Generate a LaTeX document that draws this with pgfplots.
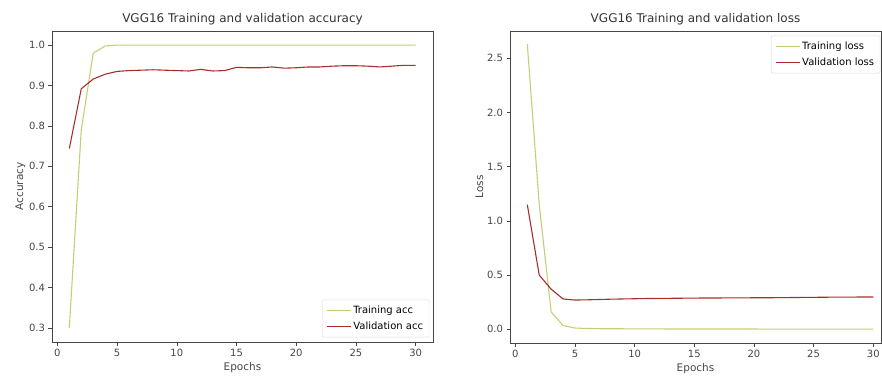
\documentclass[border=0pt]{standalone}
\usepackage{fontspec}
\setmainfont{DejaVu Sans}
\usepackage{pgfplots}
\pgfplotsset{compat=1.18}
\definecolor{trc}{RGB}{200,204,120}
\definecolor{vac}{RGB}{170,45,45}
\definecolor{axc}{RGB}{70,70,70}
\pgfplotsset{
  mpl/.style={
    scale only axis,
    axis line style={axc, line width=0.8pt},
    tick style={axc, line width=0.6pt},
    tick align=outside,
    major tick length=3.5pt,
    xtick pos=bottom, ytick pos=left,
    tick label style={font=\fontsize{10}{11}\selectfont, text=axc},
    xlabel style={font=\fontsize{10.5}{11}\selectfont, text=axc, yshift=1pt},
    ylabel style={font=\fontsize{10.5}{11}\selectfont, text=axc, yshift=-3pt},
    title style={font=\fontsize{12}{13}\selectfont, text=black!80, yshift=-4pt},
    /pgf/number format/assume math mode=true,
    xtick={0,5,...,30},
    legend style={font=\fontsize{10}{11}\selectfont, draw=black!15, rounded corners=1pt, fill=white, inner xsep=4pt, inner ysep=4pt, row sep=3pt},
    legend image code/.code={\draw[#1] (0pt,0pt) -- (24pt,0pt);},
    legend cell align=left,
    every axis plot/.append style={line width=1.1pt},
  }
}
\begin{document}
\begin{tikzpicture}
\useasboundingbox (0,0) rectangle (882pt,376pt);
\begin{axis}[mpl,
  at={(52pt,34pt)}, anchor=south west,
  width=381pt, height=311pt,
  xmin=-0.45, xmax=31.45, ymin=0.265, ymax=1.035,
  ytick={0.3,0.4,...,1.0},
  yticklabel style={/pgf/number format/fixed, /pgf/number format/precision=1, /pgf/number format/fixed zerofill},
  title={VGG16 Training and validation accuracy},
  xlabel={Epochs}, ylabel={Accuracy},
  legend style={at={(0.99,0.015)}, anchor=south east},
]
\addplot[trc] coordinates {
(1,0.30) (2,0.79) (3,0.98) (4,0.998) (5,1.0) (6,1.0) (7,1.0) (8,1.0) (9,1.0) (10,1.0)
(11,1.0) (12,1.0) (13,1.0) (14,1.0) (15,1.0) (16,1.0) (17,1.0) (18,1.0) (19,1.0) (20,1.0)
(21,1.0) (22,1.0) (23,1.0) (24,1.0) (25,1.0) (26,1.0) (27,1.0) (28,1.0) (29,1.0) (30,1.0)};
\addlegendentry{Training acc}
\addplot[vac] coordinates {
(1,0.744) (2,0.892) (3,0.916) (4,0.928) (5,0.935) (6,0.937) (7,0.938) (8,0.939) (9,0.938) (10,0.937)
(11,0.936) (12,0.940) (13,0.936) (14,0.937) (15,0.945) (16,0.944) (17,0.944) (18,0.946) (19,0.943) (20,0.944)
(21,0.946) (22,0.946) (23,0.948) (24,0.949) (25,0.949) (26,0.948) (27,0.946) (28,0.948) (29,0.950) (30,0.950)};
\addlegendentry{Validation acc}
\end{axis}
\begin{axis}[mpl,
  at={(510pt,33pt)}, anchor=south west,
  width=371pt, height=312pt,
  xmin=-0.45, xmax=30.65, ymin=-0.126, ymax=2.75,
  ytick={0,0.5,...,2.5},
  yticklabel style={/pgf/number format/fixed, /pgf/number format/precision=1, /pgf/number format/fixed zerofill},
  title={VGG16 Training and validation loss},
  xlabel={Epochs}, ylabel={Loss},
  legend style={at={(0.998,0.985)}, anchor=north east},
]
\addplot[trc] coordinates {
(1,2.63) (2,1.15) (3,0.16) (4,0.035) (5,0.012) (6,0.008) (7,0.006) (8,0.005) (9,0.005) (10,0.004)
(11,0.004) (12,0.004) (13,0.003) (14,0.003) (15,0.003) (16,0.003) (17,0.003) (18,0.003) (19,0.003) (20,0.003)
(21,0.002) (22,0.002) (23,0.002) (24,0.002) (25,0.002) (26,0.002) (27,0.002) (28,0.002) (29,0.002) (30,0.002)};
\addlegendentry{Training loss}
\addplot[vac] coordinates {
(1,1.15) (2,0.50) (3,0.37) (4,0.28) (5,0.27) (6,0.272) (7,0.275) (8,0.278) (9,0.28) (10,0.282)
(11,0.284) (12,0.285) (13,0.286) (14,0.287) (15,0.288) (16,0.289) (17,0.289) (18,0.290) (19,0.290) (20,0.291)
(21,0.291) (22,0.292) (23,0.293) (24,0.294) (25,0.295) (26,0.296) (27,0.297) (28,0.297) (29,0.298) (30,0.298)};
\addlegendentry{Validation loss}
\end{axis}
\end{tikzpicture}
\end{document}
